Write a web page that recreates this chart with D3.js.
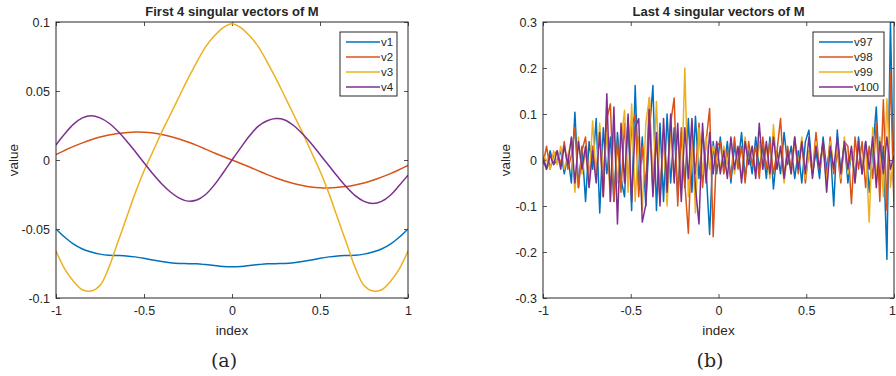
<!DOCTYPE html>
<html>
<head>
<meta charset="utf-8">
<script src="https://cdn.jsdelivr.net/npm/d3@7"></script>
<style>
  html, body { margin: 0; padding: 0; background: #fff; }
  svg { display: block; }
  text { font-family: Arial, "Liberation Sans", Helvetica, sans-serif; fill: #262626; }
</style>
</head>
<body>
<svg id="chart" width="896" height="376"></svg>
<script>
// ---- Panel (a): first 4 singular vectors, sampled every 0.05 on [-1, 1] ----
const firstNames = ["v1", "v2", "v3", "v4"];
const v1 = [-0.0500,-0.0560,-0.0610,-0.0645,-0.0667,-0.0682,-0.0690,-0.0692,-0.0695,-0.0702,
            -0.0712,-0.0725,-0.0736,-0.0745,-0.0750,-0.0751,-0.0752,-0.0758,-0.0765,-0.0771,
            -0.0773,
            -0.0771,-0.0765,-0.0758,-0.0752,-0.0751,-0.0750,-0.0745,-0.0736,-0.0725,-0.0712,
            -0.0702,-0.0695,-0.0692,-0.0690,-0.0682,-0.0667,-0.0645,-0.0610,-0.0560,-0.0500];
const v2 = [0.0039,0.0070,0.0099,0.0124,0.0147,0.0166,0.0181,0.0192,0.0198,0.0202,
            0.0201,0.0195,0.0184,0.0170,0.0152,0.0130,0.0106,0.0079,0.0051,0.0025,
            0.0000,
            -0.0025,-0.0051,-0.0079,-0.0106,-0.0130,-0.0152,-0.0170,-0.0184,-0.0195,-0.0201,
            -0.0202,-0.0198,-0.0192,-0.0181,-0.0166,-0.0147,-0.0124,-0.0099,-0.0070,-0.0039];
const v3 = [-0.066,-0.079,-0.088,-0.094,-0.095,-0.091,-0.078,-0.060,-0.042,-0.024,
            -0.008,0.006,0.020,0.033,0.046,0.059,0.071,0.082,0.090,0.096,
            0.0988,
            0.096,0.090,0.082,0.071,0.059,0.046,0.033,0.020,0.006,-0.008,
            -0.024,-0.042,-0.060,-0.078,-0.091,-0.095,-0.094,-0.088,-0.079,-0.066];
const v4 = [0.0109,0.0190,0.0260,0.0305,0.0321,0.0305,0.0268,0.0210,0.0140,0.0062,
            -0.0020,-0.0100,-0.0172,-0.0232,-0.0276,-0.0298,-0.0290,-0.0250,-0.0180,-0.0092,
            0.0000,
            0.0090,0.0176,0.0245,0.0284,0.0300,0.0290,0.0250,0.0190,0.0120,0.0040,
            -0.0040,-0.0120,-0.0195,-0.0258,-0.0300,-0.0316,-0.0300,-0.0255,-0.0185,-0.0110];

// ---- Panel (b): last 4 singular vectors, 100 samples on [-1, 1] ----
const lastNames = ["v97", "v98", "v99", "v100"];
const v97 = [0.01,-0.02,0.02,-0.01,0.00,0.02,-0.03,0.01,-0.05,0.104,
             -0.06,0.03,-0.09,0.04,-0.02,0.09,-0.115,0.07,-0.03,0.05,
             -0.09,0.06,-0.04,-0.08,0.09,-0.11,0.162,-0.06,0.05,-0.10,
             0.06,0.162,-0.11,0.08,-0.09,0.10,-0.05,0.07,-0.08,0.06,
             -0.06,0.09,-0.07,0.095,-0.04,0.06,-0.02,-0.162,0.04,-0.03,
             0.05,-0.02,0.04,-0.05,0.03,-0.01,0.06,-0.04,0.02,-0.03,
             0.05,-0.02,0.03,-0.04,0.05,-0.063,0.02,-0.03,0.06,-0.01,
             0.03,-0.04,0.02,-0.05,0.04,0.065,-0.03,0.02,-0.04,0.05,
             -0.02,0.03,-0.10,0.065,-0.03,0.04,-0.05,0.02,-0.04,0.05,
             -0.03,0.04,-0.07,0.02,0.115,-0.05,0.03,-0.216,0.30,-0.09];
const v98 = [-0.01,0.03,-0.02,0.01,0.02,-0.01,0.04,-0.02,0.01,0.071,
             -0.06,0.02,0.05,-0.04,0.03,-0.03,0.06,-0.08,0.09,0.122,
             -0.09,0.04,-0.07,0.08,-0.05,0.07,0.10,-0.08,0.03,-0.06,
             0.135,-0.07,0.05,-0.09,0.06,-0.04,0.08,0.135,-0.10,0.07,
             -0.05,-0.159,0.06,-0.03,0.08,-0.06,0.04,0.112,-0.167,0.03,
             0.04,-0.03,0.02,-0.04,0.05,-0.02,0.03,-0.05,0.04,-0.01,
             0.03,-0.04,0.05,-0.02,0.04,-0.03,0.02,0.09,-0.04,0.03,
             -0.02,0.05,-0.03,0.04,-0.05,0.02,-0.03,0.06,-0.02,0.04,
             -0.04,0.05,-0.03,0.02,-0.05,0.04,0.03,-0.095,0.05,-0.02,
             0.04,-0.06,0.03,-0.04,0.08,-0.09,0.131,-0.11,0.189,-0.105];
const v99 = [0.01,0.00,-0.02,0.02,-0.01,0.03,-0.02,0.01,0.04,-0.07,
             0.05,-0.03,0.02,-0.05,0.085,-0.04,0.08,-0.03,0.06,-0.09,
             0.07,-0.05,0.04,0.108,-0.07,0.122,-0.09,0.05,-0.11,0.08,
             0.136,-0.06,0.127,-0.08,0.05,-0.10,0.07,-0.04,0.06,-0.07,
             0.20,-0.08,0.05,-0.115,0.07,-0.03,0.05,-0.02,0.03,0.00,
             -0.02,0.03,-0.01,0.04,-0.03,0.02,-0.04,0.05,-0.01,0.03,
             -0.03,0.04,-0.02,0.03,-0.04,0.077,-0.02,0.03,-0.05,0.02,
             -0.03,0.04,-0.01,0.05,-0.04,0.02,-0.03,0.04,-0.02,0.03,
             -0.05,0.04,-0.02,0.03,-0.04,0.05,-0.03,0.02,-0.05,0.04,
             -0.02,0.03,-0.135,0.07,-0.04,0.05,-0.08,0.133,-0.06,0.02];
const v100 = [0.00,-0.02,0.01,-0.01,0.02,-0.02,0.03,-0.01,0.05,-0.05,
              0.04,-0.02,0.03,-0.06,0.02,-0.05,0.06,-0.08,0.144,-0.09,
              0.115,-0.139,0.08,-0.05,0.10,-0.09,0.07,0.09,-0.135,-0.097,
              0.11,-0.08,0.06,-0.10,0.09,-0.07,0.10,-0.05,0.08,-0.09,
              0.07,-0.04,0.09,-0.06,-0.139,0.08,-0.05,0.06,-0.03,0.04,
              -0.03,0.02,-0.04,0.05,-0.02,0.03,-0.05,0.04,-0.01,0.03,
              -0.04,0.08,-0.02,0.04,-0.03,0.05,-0.02,0.03,-0.04,0.02,
              -0.03,0.05,-0.02,0.04,-0.03,0.05,-0.04,0.03,-0.02,0.04,
              -0.07,0.03,-0.02,0.05,-0.03,0.04,-0.02,0.03,-0.05,0.04,
              -0.03,0.04,-0.02,0.05,-0.06,0.04,-0.03,0.05,-0.02,0.01];

// Tick labels
const xTicks = [-1, -0.5, 0, 0.5, 1];
const yTicksA = [-0.1, -0.05, 0, 0.05, 0.1];
const yTicksB = [-0.3, -0.2, -0.1, 0, 0.1, 0.2, 0.3];

const colors = ["#0072BD", "#D95319", "#EDB120", "#7E2F8E"];

const svg = d3.select("#chart");
const W = +svg.attr("width");

function linspace(n) { return d3.range(n).map(i => -1 + 2 * i / (n - 1)); }

function panel(opts) {
  const { left, right, top, bottom, yDomain, yTicks, series, names, title,
          curve, legend, caption, captionX, clipId, yLabelX } = opts;
  const x = d3.scaleLinear().domain([-1, 1]).range([left, right]);
  const y = d3.scaleLinear().domain(yDomain).range([bottom, top]);
  const g = svg.append("g");

  g.append("clipPath").attr("id", clipId)
    .append("rect").attr("x", left).attr("y", top)
    .attr("width", right - left).attr("height", bottom - top);

  const fmt = d => String(+d.toFixed(2));

  // Axes (ticks pointing inward, box on)
  const xb = g.append("g").attr("transform", `translate(0,${bottom})`)
    .call(d3.axisBottom(x).tickValues(xTicks).tickSize(-4).tickPadding(8).tickFormat(fmt))
    .call(a => a.select(".domain").remove());
  // keep a label that would run past the page edge inside it
  xb.selectAll(".tick text").each(function (d) {
    const t = d3.select(this);
    const w = this.getComputedTextLength ? this.getComputedTextLength() : 0;
    if (x(d) + w / 2 > W) t.attr("text-anchor", "end").attr("x", W - x(d) - 0.5);
  });
  g.append("g").attr("transform", `translate(0,${top})`)
    .call(d3.axisTop(x).tickValues(xTicks).tickSize(-4).tickFormat(""))
    .call(a => a.select(".domain").remove());
  g.append("g").attr("transform", `translate(${left},0)`)
    .call(d3.axisLeft(y).tickValues(yTicks).tickSize(-4).tickPadding(6).tickFormat(fmt))
    .call(a => a.select(".domain").remove());
  g.append("g").attr("transform", `translate(${right},0)`)
    .call(d3.axisRight(y).tickValues(yTicks).tickSize(-4).tickFormat(""))
    .call(a => a.select(".domain").remove());
  g.selectAll(".tick line").attr("stroke", "#262626").attr("stroke-width", 0.8);
  g.selectAll(".tick text").style("font-size", "12.5px").attr("fill", "#262626")
    .style("font-family", "Arial, 'Liberation Sans', sans-serif");

  // Series
  const xs = linspace(series[0].length);
  const line = d3.line().x((d, i) => x(xs[i])).y(d => y(d)).curve(curve);
  const lines = g.append("g").attr("clip-path", `url(#${clipId})`);
  series.forEach((s, k) => {
    lines.append("path").datum(s)
      .attr("d", line)
      .attr("fill", "none")
      .attr("stroke", colors[k])
      .attr("stroke-width", 1.5)
      .attr("stroke-linejoin", "round");
  });

  // Box
  g.append("rect").attr("x", left).attr("y", top)
    .attr("width", right - left).attr("height", bottom - top)
    .attr("fill", "none").attr("stroke", "#262626").attr("stroke-width", 1);

  // Legend
  const lg = g.append("g");
  lg.append("rect").attr("x", legend.x).attr("y", legend.y)
    .attr("width", legend.w).attr("height", legend.h)
    .attr("fill", "#fff").attr("stroke", "#262626").attr("stroke-width", 1);
  names.forEach((n, k) => {
    const yy = legend.y + 10 + k * 15;
    lg.append("line").attr("x1", legend.x + 6).attr("x2", legend.x + 40)
      .attr("y1", yy).attr("y2", yy)
      .attr("stroke", colors[k]).attr("stroke-width", 1.5);
    lg.append("text").attr("x", legend.x + 41).attr("y", yy + 4)
      .style("font-size", "11.5px").text(n);
  });

  // Title and labels
  const cx = (left + right) / 2;
  g.append("text").attr("x", cx).attr("y", 16).attr("text-anchor", "middle")
    .style("font-size", "13px").style("font-weight", "bold").text(title);
  g.append("text").attr("x", cx).attr("y", 335).attr("text-anchor", "middle")
    .style("font-size", "13.5px").text("index");
  g.append("text").attr("transform", `translate(${yLabelX},${(top + bottom) / 2}) rotate(-90)`)
    .attr("text-anchor", "middle").style("font-size", "13.5px").text("value");
  g.append("text").attr("x", captionX).attr("y", 367).attr("text-anchor", "middle")
    .style("font-family", "'DejaVu Serif', serif").style("font-size", "19px")
    .attr("fill", "#111").text(caption);
}

panel({
  left: 56, right: 408, top: 22, bottom: 298,
  yDomain: [-0.1, 0.1], yTicks: yTicksA,
  series: [v1, v2, v3, v4], names: firstNames,
  title: "First 4 singular vectors of M",
  curve: d3.curveCatmullRom,
  legend: { x: 340, y: 32, w: 57, h: 64 },
  caption: "(a)", captionX: 224, clipId: "clipA", yLabelX: 18
});

panel({
  left: 543, right: 894, top: 22, bottom: 298,
  yDomain: [-0.3, 0.3], yTicks: yTicksB,
  series: [v97, v98, v99, v100], names: lastNames,
  title: "Last 4 singular vectors of M",
  curve: d3.curveLinear,
  legend: { x: 813, y: 32, w: 71, h: 64 },
  caption: "(b)", captionX: 710, clipId: "clipB", yLabelX: 510
});
</script>
</body>
</html>
